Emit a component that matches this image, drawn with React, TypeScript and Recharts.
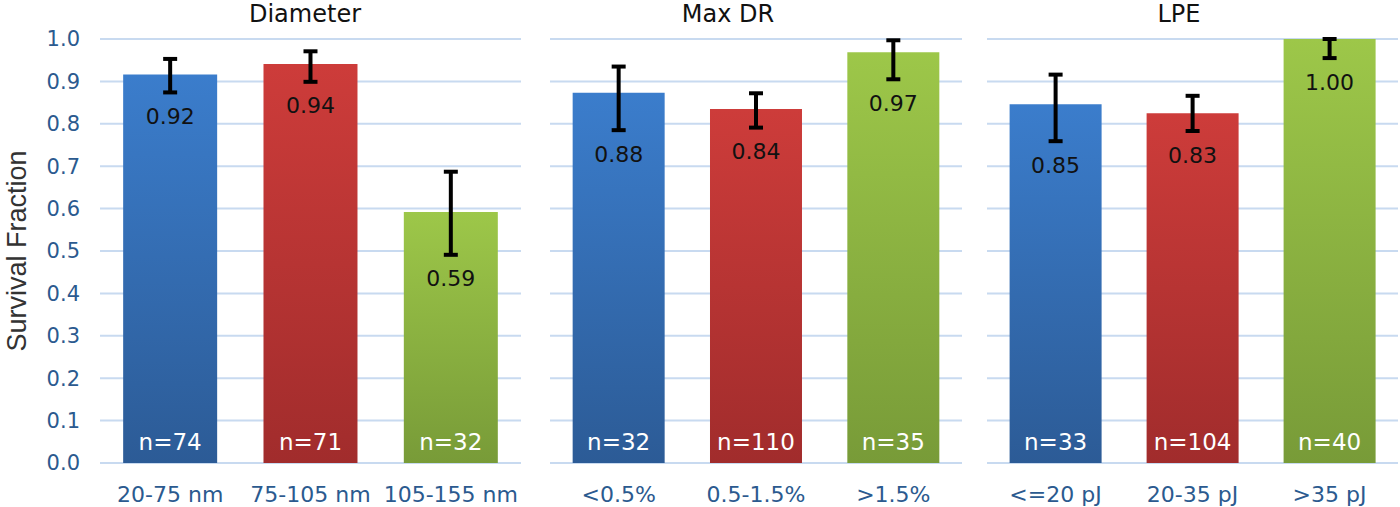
import React from "react";
import { Bar, BarChart, CartesianGrid, Cell, ErrorBar, LabelList, XAxis, YAxis } from "recharts";

// Diameter panel
const diameterCats = ["20-75 nm", "75-105 nm", "105-155 nm"];
const diameterVals = [0.916, 0.941, 0.592];
const diameterLow = [0.874, 0.899, 0.491];
const diameterHigh = [0.953, 0.971, 0.687];
const diameterN = [74, 71, 32];
const diameterText = ["0.92", "0.94", "0.59"];

// Max DR panel
const maxDrCats = ["<0.5%", "0.5-1.5%", ">1.5%"];
const maxDrVals = [0.873, 0.835, 0.969];
const maxDrLow = [0.785, 0.791, 0.905];
const maxDrHigh = [0.935, 0.872, 0.997];
const maxDrN = [32, 110, 35];
const maxDrText = ["0.88", "0.84", "0.97"];

// LPE panel
const lpeCats = ["<=20 pJ", "20-35 pJ", ">35 pJ"];
const lpeVals = [0.846, 0.825, 1.0];
const lpeLow = [0.759, 0.783, 0.955];
const lpeHigh = [0.916, 0.866, 1.0];
const lpeN = [33, 104, 40];
const lpeText = ["0.85", "0.83", "1.00"];

const yTicks = [0, 0.1, 0.2, 0.3, 0.4, 0.5, 0.6, 0.7, 0.8, 0.9, 1.0];

const barColors = [
  ["#3b7dcc", "#2c5b96"],
  ["#cd3c3a", "#a12c2c"],
  ["#9dc749", "#789b38"],
];

const FONT = "DejaVu Sans";
const TICK_BLUE = "#2b5a8f";

const Panel = (props: any) => {
  const { id, cats, vals, low, high, n, text, left, width, margin, showY } = props;
  const data = cats.map((c: string, i: number) => ({
    cat: c,
    v: vals[i],
    err: [vals[i] - low[i], high[i] - vals[i]],
    n: n[i],
  }));

  const valueLabel = (p: any) => {
    const { x, y, width: w, height: h, index } = p;
    const v = vals[index];
    // place the number a little under the lower whisker
    const lowY = y + ((v - low[index]) / v) * h;
    return (
      <text x={x + w / 2} y={lowY + 24} textAnchor="middle" dominantBaseline="central"
        fontFamily={FONT} fontSize={22} fill="#111">
        {text[index]}
      </text>
    );
  };

  const nLabel = (p: any) => {
    const { x, y, width: w, height: h, index } = p;
    return (
      <text x={x + w / 2} y={y + h - 21} textAnchor="middle" dominantBaseline="central"
        fontFamily={FONT} fontSize={23} fill="#fff">
        {"n=" + n[index]}
      </text>
    );
  };

  return (
    <div style={{ position: "absolute", left, top: 0 }}>
      <BarChart width={width} height={507} data={data} margin={margin} barCategoryGap="16.5%">
        <defs>
          {barColors.map((c, i) => (
            <linearGradient key={i} id={`${id}-g${i}`} x1="0" y1="0" x2="0" y2="1">
              <stop offset="0%" stopColor={c[0]} />
              <stop offset="100%" stopColor={c[1]} />
            </linearGradient>
          ))}
        </defs>
        <CartesianGrid vertical={false} stroke="#c8daf0" strokeWidth={2} />
        <XAxis dataKey="cat" axisLine={false} tickLine={false} tickSize={0} tickMargin={23}
          height={44} interval={0} tick={{ fill: TICK_BLUE, fontSize: 22, fontFamily: FONT }} />
        {showY ? (
          <YAxis domain={[0, 1]} ticks={yTicks} width={100} axisLine={false} tickLine={false}
            tickSize={0} tickMargin={20} tickFormatter={(t: number) => t.toFixed(1)}
            tick={{ fill: TICK_BLUE, fontSize: 21, fontFamily: FONT }} />
        ) : (
          <YAxis hide domain={[0, 1]} ticks={yTicks} />
        )}
        <Bar dataKey="v" isAnimationActive={false}>
          {data.map((d: any, i: number) => (
            <Cell key={i} fill={`url(#${id}-g${i})`} />
          ))}
          <ErrorBar dataKey="err" direction="y" width={7} strokeWidth={4} stroke="#000" isAnimationActive={false} />
          <LabelList dataKey="v" content={valueLabel} />
          <LabelList dataKey="n" content={nLabel} />
        </Bar>
      </BarChart>
    </div>
  );
};

const App = () => {
  return (
    <div style={{ position: "absolute", left: 0, top: 0, width: 1400, height: 507, background: "#fff" }}>
      <Panel id="dia" cats={diameterCats} vals={diameterVals} low={diameterLow} high={diameterHigh}
        n={diameterN} text={diameterText} left={0} width={530}
        margin={{ top: 39, right: 9, bottom: 0, left: 0 }} showY />
      <Panel id="mdr" cats={maxDrCats} vals={maxDrVals} low={maxDrLow} high={maxDrHigh}
        n={maxDrN} text={maxDrText} left={540} width={430}
        margin={{ top: 39, right: 8, bottom: 0, left: 10 }} />
      <Panel id="lpe" cats={lpeCats} vals={lpeVals} low={lpeLow} high={lpeHigh}
        n={lpeN} text={lpeText} left={977} width={423}
        margin={{ top: 39, right: 2, bottom: 0, left: 10 }} />
      <svg width={1400} height={507} style={{ position: "absolute", left: 0, top: 0, pointerEvents: "none" }}>
        <text x={305} y={22} textAnchor="middle" fontFamily={FONT} fontSize={24} fill="#111">Diameter</text>
        <text x={728} y={22} textAnchor="middle" fontFamily={FONT} fontSize={24} fill="#111">Max DR</text>
        <text x={1179} y={22} textAnchor="middle" fontFamily={FONT} fontSize={24} fill="#111">LPE</text>
        <text transform="translate(26,251) rotate(-90)" textAnchor="middle" fontFamily="Liberation Sans"
          fontSize={27} fill="#333">Survival Fraction</text>
      </svg>
    </div>
  );
};

export default App;
